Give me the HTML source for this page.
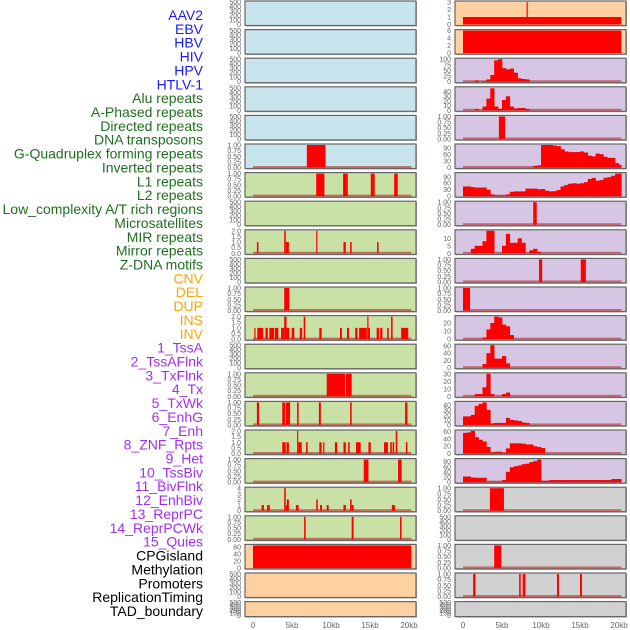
<!DOCTYPE html>
<html><head><meta charset="utf-8"><style>
html,body{margin:0;padding:0;background:#fff;width:630px;height:630px;overflow:hidden}
svg{display:block;font-family:"Liberation Sans",sans-serif}
</style></head><body>
<svg id="chart" width="630" height="630" viewBox="0 0 630 630"></svg>
<script>
// ---------- data ----------
const trackLabels = ["AAV2","EBV","HBV","HIV","HPV","HTLV-1","Alu repeats","A-Phased repeats","Directed repeats","DNA transposons","G-Quadruplex forming repeats","Inverted repeats","L1 repeats","L2 repeats","Low_complexity A/T rich regions","Microsatellites","MIR repeats","Mirror repeats","Z-DNA motifs","CNV","DEL","DUP","INS","INV","1_TssA","2_TssAFlnk","3_TxFlnk","4_Tx","5_TxWk","6_EnhG","7_Enh","8_ZNF_Rpts","9_Het","10_TssBiv","11_BivFlnk","12_EnhBiv","13_ReprPC","14_ReprPCWk","15_Quies","CPGisland","Methylation","Promoters","ReplicationTiming","TAD_boundary"];
const labelGroups = [6,13,5,15,5];
const groupColors = ["#1a1aff","#1f6f1f","#ffa500","#a030f0","#000000"];
const xTickLabels = ["0","5kb","10kb","15kb","20kb"];
const xTickValues = [0,5,10,15,20];

// left-column segment tracks: [startKb, endKb, height]
const L5 = [[6.9,9.3,1]];
const L6 = [[8.1,9.15,1],[11.55,12.15,1],[15.1,15.6,1],[18.1,18.55,1]];
const L8 = [[0.5,0.7,1],[4.0,4.2,2],[4.2,4.6,1],[8.1,8.25,2],[11.6,11.9,1],[12.45,12.65,1],[15.9,16.1,1]];
const L10 = [[4.0,4.65,1]];
const L11 = [[0.17,0.3,1],[0.55,1.3,1],[1.6,1.9,1],[2.1,2.7,1],[2.8,3.25,1],[3.6,4.0,1],[4.0,4.3,2],[4.3,4.65,1],[4.96,5.3,1],[6.0,6.3,1],[6.5,6.7,2],[8.5,8.8,1],[11.15,11.4,1],[12.05,12.3,1],[13.1,13.4,1],[13.6,14.6,1],[14.65,14.8,2],[14.8,15.0,1],[15.85,16.15,1],[16.3,16.6,1],[17.2,17.4,1],[17.7,17.9,2],[19.0,19.9,1]];
const L13 = [[9.45,11.8,1],[11.9,12.65,1]];
const L14 = [[0.5,0.77,1],[3.75,4.1,1],[4.2,4.75,1],[5.65,5.85,1],[8.45,8.7,1],[12.45,12.65,1],[19.5,19.8,1]];
const L15 = [[3.75,4.2,1],[4.3,4.6,1],[5.65,5.8,2],[5.8,6.25,1],[6.8,7.0,1],[8.5,8.8,1],[9.0,9.15,1],[10.5,10.8,1],[11.6,11.9,1],[12.2,12.4,1],[13.2,13.8,1],[14.8,15.1,1],[16.8,17.3,1],[17.6,17.8,1],[17.9,18.1,1],[18.3,18.5,2],[19.6,19.8,1]];
const L16 = [[14.2,14.8,1],[18.6,19.05,1]];
const L17 = [[1.1,1.4,1],[1.8,2.15,1],[4.0,4.2,4],[4.2,4.35,1],[4.35,4.6,2],[5.5,5.85,1],[8.1,8.3,2],[8.6,8.85,1],[9.45,9.7,1],[11.6,11.9,1],[12.45,12.65,2],[12.65,12.9,1],[17.8,18.2,1]];
const L18 = [[6.55,6.75,1],[12.65,12.9,1],[18.85,19.05,1]];
const L19 = [[0,20.3,65]];

// right-column segment tracks
const R0 = [[0,20.3,1],[8.15,8.3,3]];
const R1 = [[0,20.3,6]];
const R4 = [[4.6,5.4,1]];
const R7 = [[9.0,9.45,1]];
const R9 = [[9.75,10.15,1],[15.1,15.75,1]];
const R10 = [[0,0.9,1]];
const R17 = [[3.45,5.25,1]];
const R19 = [[4.0,4.9,1]];
const R20 = [[1.3,1.6,1],[7.2,7.4,1],[7.65,8.0,1],[12.05,12.3,1],[15.0,15.25,1]];

// right-column histogram tracks (0.5kb bins)
const R2 = [0,0,0,5,0,3,10,30,95,100,60,55,58,40,15,12,10];
const R3 = [0,0,0,3,0,8,25,47,8,3,22,30,8,4,5,5,3];
const R5 = [0,0,0,0,0,0,0,0,0,0,0,0,0,0,0,0,0,0,8,10,105,105,105,102,100,85,75,72,72,72,75,70,55,52,65,62,50,45,45,20,12];
const R6 = [45,45,42,40,40,40,30,8,3,3,3,8,20,22,22,22,35,35,35,32,33,25,22,23,28,45,52,58,60,58,60,65,80,85,72,75,85,88,95,105,105];
const R8 = [0,0,3,5,5,8,15,15,0,0,5,13,7,7,10,7,0,2,3,1];
const R11 = [0,0,0,0,0,2,12,20,28,27,18,16,5];
const R12 = [0,0,0,0,0,10,40,62,25,25,32,12];
const R13 = [0,0,0,3,3,12,30,3,0,0,3,5];
const R14 = [17,17,20,38,42,45,30,3,4,4,4,14,10,9,8,5,4];
const R15 = [57,58,62,45,38,33,18,3,5,5,2,14,28,28,28,27,25,25,20,18,15];
const R16 = [22,22,18,17,17,17,2,2,2,2,8,40,58,62,65,70,72,78,82,88,5,5,8,8,8,8,8,8,8,8,8,8,8,8,8,8,8,8,12,12,12];

// tick label sets
const T500 = ["0","100","200","300","400","500"];
const T1 = ["0.00","0.25","0.50","0.75","1.00"];
const T2 = ["0.0","0.5","1.0","1.5","2.0"];

// ---------- layout ----------
const svg = document.getElementById('chart');
const NS = 'http://www.w3.org/2000/svg';
const COLS = [{x:245,w:171,x0:253,name:'left'},{x:455,w:171,x0:463,name:'right'}];
const PXKB = 7.8;
const BG = {blue:'#c8e4ec',green:'#c9e1a5',orange:'#ffd1a0',purple:'#d6c6e4',grey:'#d1d1d1'};
function rowTop(i){return 1+i*28.6;}
function rowH(i){return i===21?15:24.5;}

function mk(tag,attrs,parent){const e=document.createElementNS(NS,tag);for(const k in attrs)e.setAttribute(k,attrs[k]);(parent||svg).appendChild(e);return e;}

// labels
let li=0;
labelGroups.forEach((n,g)=>{for(let k=0;k<n;k++){
  const t=mk('text',{x:203,y:20+li*13.86,'text-anchor':'end','font-size':'14',fill:groupColors[g]});
  t.textContent=trackLabels[li];
  
  
  li++;}});

function panel(col,row,bg,ticks,ymax,segs,bins,baseline){
  const C=COLS[col], top=rowTop(row), h=rowH(row);
  const g=mk('g',{});
  
  
  mk('rect',{x:C.x+1,y:top+1,width:C.w,height:h,fill:'#aaa'},g);
  mk('rect',{x:C.x,y:top,width:C.w,height:h,fill:BG[bg],stroke:'#666','stroke-width':1.2},g);
  const yS=v=>top+h-1-(v/ymax)*(h-2);
  const xS=kb=>C.x0+kb*PXKB;
  if(baseline){const bl=mk('rect',{x:xS(0),y:top+h-2.5,width:20.3*PXKB,height:2,fill:'rgba(190,40,40,0.6)'},g);
    }
  (segs||[]).forEach(s=>{
    const r=mk('rect',{x:xS(s[0]),y:yS(Math.min(s[2],ymax)),width:Math.max(1.2,xS(s[1])-xS(s[0])),height:top+h-1-yS(Math.min(s[2],ymax)),fill:'#ff0000'},g);
    
    
  });
  (bins||[]).forEach((v,i)=>{ if(!v)return;
    const a=i*0.5,b=Math.min(20.3,a+0.5);
    const r=mk('rect',{x:xS(a),y:yS(Math.min(v,ymax)),width:xS(b)-xS(a)+0.3,height:top+h-1-yS(Math.min(v,ymax)),fill:'#ff0000'},g);
    
    
  });
  ticks.forEach((t,i)=>{
    const v=parseFloat(t); const y=yS(v)+2.5;
    const tx=mk('text',{x:C.x-4,y:Math.min(y,top+h+2),'text-anchor':'end','font-size':'7',fill:'#666'},g);
    tx.textContent=t;
    
    
  });
}

// left column
for(let r=0;r<5;r++) panel(0,r,'blue',T500,500,null,null,false);
panel(0,5,'blue',T1,1,L5,null,true);
panel(0,6,'green',T1,1,L6,null,true);
panel(0,7,'green',T500,500,null,null,false);
panel(0,8,'green',T2,2,L8,null,true);
panel(0,9,'green',T500,500,null,null,false);
panel(0,10,'green',T1,1,L10,null,true);
panel(0,11,'green',T2,2,L11,null,true);
panel(0,12,'green',T500,500,null,null,false);
panel(0,13,'green',T1,1,L13,null,true);
panel(0,14,'green',T1,1,L14,null,true);
panel(0,15,'green',T2,2,L15,null,true);
panel(0,16,'green',T1,1,L16,null,true);
panel(0,17,'green',["0","1","2","3","4"],4,L17,null,true);
panel(0,18,'green',T1,1,L18,null,true);
panel(0,19,'orange',["0","20","40","60"],65,L19,null,true);
panel(0,20,'orange',T500,500,null,null,false);
panel(0,21,'orange',T500,500,null,null,false);

// right column
panel(1,0,'orange',["0","1","2","3"],3,R0,null,false);
panel(1,1,'orange',["0","2","4","6"],6,R1,null,false);
panel(1,2,'purple',["0","25","50","75","100"],100,null,R2,true);
panel(1,3,'purple',["0","10","20","30","40"],48,null,R3,true);
panel(1,4,'purple',T1,1,R4,null,true);
panel(1,5,'purple',["0","30","60","90"],105,null,R5,true);
panel(1,6,'purple',["0","30","60","90"],105,null,R6,true);
panel(1,7,'purple',T1,1,R7,null,true);
panel(1,8,'purple',["0","5","10"],15,null,R8,true);
panel(1,9,'purple',T1,1,R9,null,true);
panel(1,10,'purple',T1,1,R10,null,true);
panel(1,11,'purple',["0","10","20"],28,null,R11,true);
panel(1,12,'purple',["0","20","40","60"],62,null,R12,true);
panel(1,13,'purple',["0","10","20","30"],30,null,R13,true);
panel(1,14,'purple',["0","10","20","30","40"],45,null,R14,true);
panel(1,15,'purple',["0","20","40","60"],62,null,R15,true);
panel(1,16,'purple',["0","20","40","60","80"],88,null,R16,true);
panel(1,17,'grey',T1,1,R17,null,true);
panel(1,18,'grey',T500,500,null,null,false);
panel(1,19,'grey',T1,1,R19,null,true);
panel(1,20,'grey',T1,1,R20,null,true);
panel(1,21,'grey',T500,500,null,null,false);

// x axes
COLS.forEach(C=>{
  xTickValues.forEach((v,i)=>{
    const t=mk('text',{x:C.x0+v*PXKB,y:628,'text-anchor':'middle','font-size':'8',fill:'#666'});
    t.textContent=xTickLabels[i];
    
    
  });
});
</script>
</body></html>
